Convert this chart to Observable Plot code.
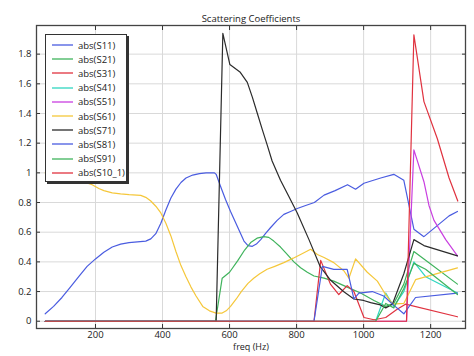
<!DOCTYPE html>
<html>
<head>
<meta charset="utf-8">
<script src="https://cdn.jsdelivr.net/npm/d3@7"></script>
<script src="https://cdn.jsdelivr.net/npm/@observablehq/plot@0.6"></script>
<style>
  body { margin: 0; background: #fff; }
  #wrap { position: relative; width: 474px; height: 356px; font-family: "Open Sans", sans-serif; }
  #legend { position: absolute; left: 45px; top: 34px; width: 82px; height: 148px; background: #fff;
            border: 1px solid #333; box-shadow: 2px 2px 0 #333; box-sizing: border-box; }
  .row { position: absolute; left: 6px; height: 14px; display: flex; align-items: center; font-size: 9.5px; color: #222; }
  .row svg { margin-right: 5px; }
</style>
</head>
<body>
<div id="wrap"></div>
<script>
const title = "Scattering Coefficients";
const xLabel = "freq (Hz)";
const seriesNames = ["abs(S11)","abs(S21)","abs(S31)","abs(S41)","abs(S51)","abs(S61)","abs(S71)","abs(S81)","abs(S91)","abs(S10_1)"];
const seriesColors = ["#4a5ce0","#3fb35c","#e0323f","#2fd6c0","#c93fe0","#f5c73a","#2b2b2b","#4a5ce0","#3fb35c","#e0323f"];
const xTicks = [200,400,600,800,1000,1200];
const yTicks = [0,0.2,0.4,0.6,0.8,1,1.2,1.4,1.6,1.8];

const S11 = [[50,0.05],[75,0.10],[100,0.16],[125,0.23],[150,0.30],[175,0.37],[200,0.42],[225,0.465],[250,0.50],[275,0.52],[300,0.53],[325,0.535],[350,0.54],[365,0.555],[380,0.59],[395,0.66],[410,0.75],[425,0.83],[440,0.89],[455,0.935],[470,0.965],[490,0.985],[510,0.995],[530,1.0],[555,1.0],[560,0.99],[573,0.91],[588,0.82],[603,0.74],[623,0.64],[643,0.54],[655,0.51],[668,0.505],[680,0.52],[693,0.55],[707,0.59],[722,0.63],[742,0.68],[762,0.72],[782,0.74],[802,0.76],[827,0.78],[853,0.80],[882,0.85],[915,0.88],[952,0.92],[976,0.89],[1001,0.93],[1051,0.965],[1090,0.99],[1120,0.95],[1150,0.62],[1180,0.57],[1255,0.71],[1280,0.74]];
const S21 = [[50,0],[558,0],[578,0.29],[600,0.33],[625,0.41],[645,0.48],[663,0.53],[682,0.56],[702,0.57],[717,0.565],[732,0.54],[752,0.50],[772,0.45],[792,0.40],[812,0.36],[832,0.33],[852,0.305],[882,0.29],[911,0.27],[951,0.23],[991,0.19],[1031,0.14],[1066,0.10],[1090,0.12],[1120,0.25],[1150,0.47],[1180,0.42],[1280,0.25]];
const S31 = [[50,0],[852,0],[872,0.41],[901,0.25],[926,0.18],[951,0.24],[971,0.2],[1001,0.025],[1031,0.01],[1066,0.025],[1100,0.08],[1125,0.115],[1280,0.03]];
const S41 = [[50,0],[1036,0],[1066,0.19],[1090,0.1],[1120,0.2],[1150,0.40],[1185,0.3],[1280,0.19]];
const S51 = [[50,0],[1128,0],[1150,1.155],[1180,0.94],[1195,0.78],[1210,0.68],[1245,0.55],[1280,0.44]];
const S61 = [[50,1.0],[100,0.98],[150,0.95],[190,0.92],[210,0.895],[225,0.88],[250,0.865],[275,0.858],[300,0.853],[335,0.848],[350,0.835],[365,0.81],[380,0.775],[395,0.73],[410,0.66],[425,0.575],[440,0.47],[455,0.375],[470,0.30],[485,0.23],[500,0.17],[520,0.10],[540,0.07],[560,0.055],[578,0.055],[590,0.07],[603,0.1],[620,0.15],[635,0.2],[655,0.255],[672,0.29],[690,0.32],[712,0.35],[735,0.37],[762,0.395],[790,0.425],[812,0.45],[842,0.485],[862,0.45],[882,0.43],[911,0.395],[941,0.34],[956,0.29],[976,0.42],[1011,0.33],[1041,0.27],[1060,0.2],[1086,0.115],[1120,0.12],[1155,0.28],[1280,0.36]];
const S71 = [[50,0],[560,0],[580,1.94],[601,1.73],[631,1.68],[653,1.61],[668,1.51],[683,1.40],[698,1.29],[712,1.19],[727,1.08],[752,0.95],[777,0.84],[802,0.73],[837,0.55],[870,0.37],[900,0.28],[940,0.2],[971,0.15],[1000,0.14],[1021,0.125],[1050,0.11],[1066,0.09],[1086,0.115],[1120,0.32],[1150,0.55],[1180,0.51],[1280,0.44]];
const S81 = [[50,0],[852,0],[877,0.37],[911,0.35],[951,0.35],[971,0.15],[986,0.19],[1026,0.2],[1060,0.17],[1086,0.115],[1120,0.05],[1155,0.16],[1280,0.19]];
const S91 = [[50,0],[1036,0],[1066,0.12],[1090,0.09],[1120,0.22],[1150,0.39],[1185,0.35],[1280,0.18]];
const S10_1 = [[50,0],[1128,0],[1150,1.93],[1180,1.48],[1220,1.23],[1255,0.965],[1281,0.81]];

const seriesData = [S11,S21,S31,S41,S51,S61,S71,S81,S91,S10_1];
const rows = seriesData.flatMap((arr, i) => arr.map(([f, v]) => ({f, v, s: seriesNames[i]})));

const font = "Open Sans";
const fmt = d => String(d);
const plot = Plot.plot({
  width: 474, height: 356,
  marginLeft: 36, marginRight: 9, marginTop: 25, marginBottom: 28,
  style: {fontFamily: font, fontSize: "9px", color: "#222", background: "#fff"},
  x: {domain: [24, 1304], ticks: xTicks, label: null},
  y: {domain: [-0.049, 1.993], ticks: yTicks, label: null},
  color: {domain: seriesNames, range: seriesColors},
  marks: [
    Plot.gridX(xTicks, {stroke: "#d9d9d9", strokeOpacity: 1}),
    Plot.gridY(yTicks, {stroke: "#d9d9d9", strokeOpacity: 1}),
    Plot.line(rows, {x: "f", y: "v", z: "s", stroke: "s", strokeWidth: 1.2}),
    Plot.axisX(xTicks, {tickSize: -4, text: null, stroke: "#333", label: null}),
    Plot.axisX(xTicks, {anchor: "top", tickSize: -4, text: null, stroke: "#333", label: null}),
    Plot.axisY(yTicks, {tickSize: -4, text: null, stroke: "#333", label: null}),
    Plot.axisY(yTicks, {anchor: "right", tickSize: -4, text: null, stroke: "#333", label: null}),
    Plot.axisX(xTicks, {tickSize: 0, tickPadding: 3, fontSize: 9.5, fill: "#222", label: null, tickFormat: fmt}),
    Plot.axisY(yTicks, {tickSize: 0, tickPadding: 5, fontSize: 9.5, fill: "#222", label: null, tickFormat: fmt}),
    Plot.text([xLabel], {frameAnchor: "bottom", dy: 21, text: d => d, fontSize: 9, fill: "#222"}),
    Plot.text([title], {frameAnchor: "top", dy: -10, text: d => d, fontSize: 9.5, fill: "#222"}),
    Plot.frame({stroke: "#444", strokeWidth: 1.3})
  ]
});
const wrap = document.getElementById("wrap");
wrap.appendChild(plot);
const legend = document.createElement("div");
legend.id = "legend";
seriesNames.forEach((n, i) => {
  const r = document.createElement("div");
  r.className = "row";
  r.style.top = (3 + i * 14.2) + "px";
  r.innerHTML = `<svg width="21" height="4"><line x1="0" y1="2" x2="21" y2="2" stroke="${seriesColors[i]}" stroke-width="1.3"/></svg><span>${n}</span>`;
  legend.appendChild(r);
});
wrap.appendChild(legend);
</script>
</body>
</html>
